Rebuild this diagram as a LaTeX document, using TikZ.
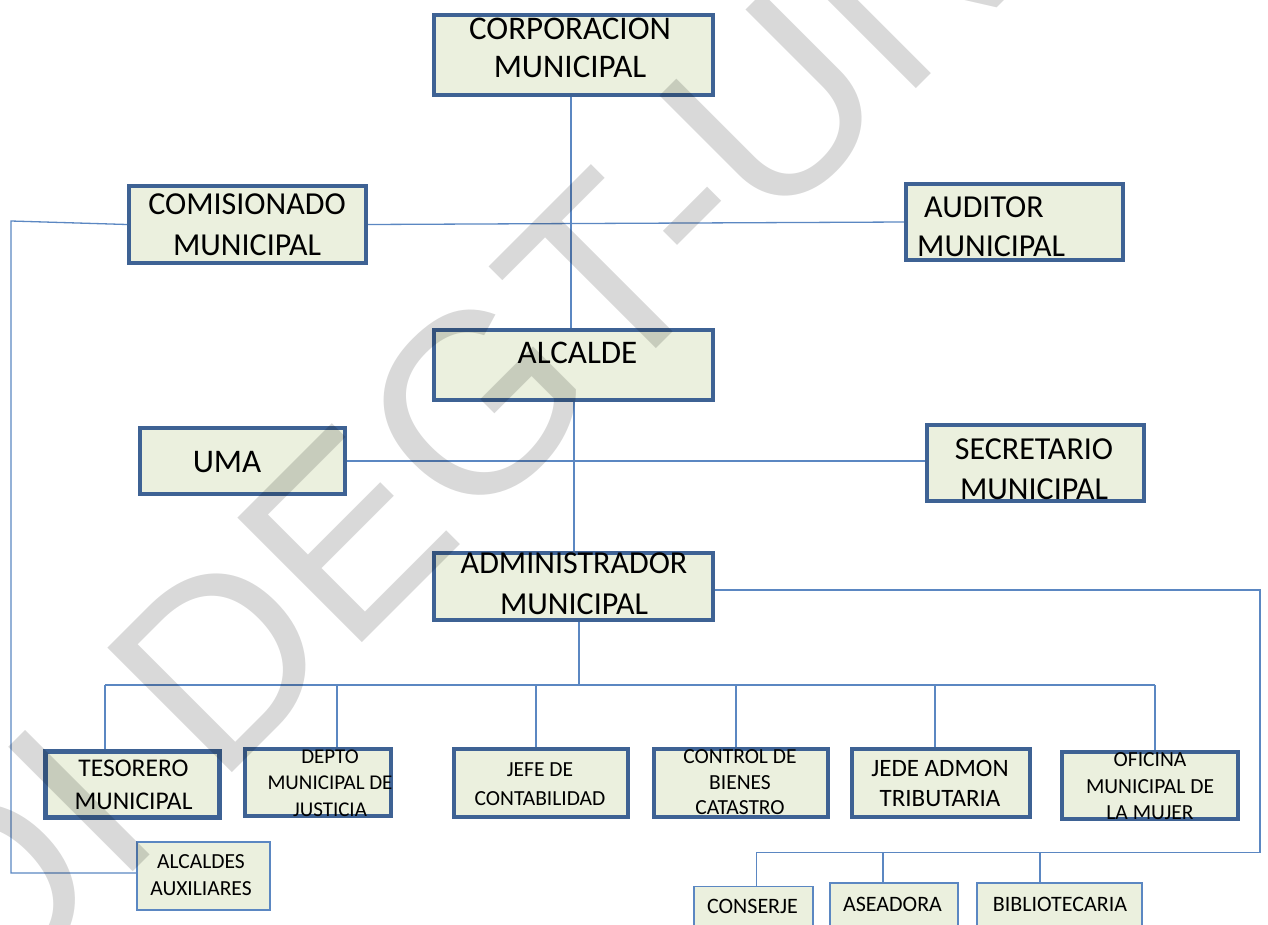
\documentclass[tikz,border=0pt]{standalone}
\usepackage{fontspec}
\setmainfont{Carlito}
\newfontfamily\wmfont{Liberation Sans}
\definecolor{bdr}{HTML}{3E6294}
\definecolor{lnc}{HTML}{5B87C2}
\definecolor{boxfill}{HTML}{EBF0DE}
\tikzset{
  box/.style={draw=bdr, line width=4pt, fill=boxfill, inner sep=0pt, rectangle},
  thinbox/.style={draw=lnc, line width=1.5pt, fill=boxfill, inner sep=0pt, rectangle},
  conn/.style={draw=lnc, line width=1.3pt},
  txt/.style={align=center, inner sep=0pt, text=black},
  big/.style={font=\fontsize{33}{40}\selectfont},
  wm/.style={inner sep=0pt, text=black, text opacity=0.15, font=\wmfont\fontsize{256}{256}\selectfont}
}
\begin{document}
\begin{tikzpicture}[x=1pt,y=-1pt]
\useasboundingbox (0,0) rectangle (1268,924);
\clip (0,0) rectangle (1268,924);
% boxes
\node[box, minimum width=279pt, minimum height=80pt] (corp) at (573.5,55) {};
\node[box, minimum width=237pt, minimum height=77pt] (comi) at (247.5,224.5) {};
\node[box, minimum width=217pt, minimum height=76pt] (audi) at (1014.5,222) {};
\node[box, minimum width=279pt, minimum height=70pt] (alca) at (573.5,365) {};
\node[box, minimum width=205pt, minimum height=66pt] (uma) at (242.5,461) {};
\node[box, minimum width=217pt, minimum height=76pt] (secr) at (1035.5,463) {};
\node[box, minimum width=279pt, minimum height=67pt] (admi) at (573.5,586.5) {};
\node[box, line width=5pt, minimum width=174pt, minimum height=66pt] (teso) at (132.5,784.5) {};
\node[box, minimum width=146pt, minimum height=67pt] (dept) at (318,782.5) {};
\node[box, minimum width=174pt, minimum height=68pt] (jefe) at (541,783) {};
\node[box, minimum width=174pt, minimum height=68pt] (cont) at (741,783) {};
\node[box, minimum width=178pt, minimum height=68pt] (jede) at (941,783) {};
\node[box, minimum width=176pt, minimum height=67pt] (ofic) at (1150,785.5) {};
\node[thinbox, minimum width=133pt, minimum height=68pt] (alcx) at (203.5,876) {};
\node[thinbox, minimum width=119pt, minimum height=60pt] (cons) at (753.5,916.5) {};
\node[thinbox, minimum width=128pt, minimum height=64pt] (asea) at (894,915) {};
\node[thinbox, minimum width=165pt, minimum height=64pt] (bibl) at (1059.5,915) {};
% texts
\node[txt, font=\fontsize{33}{38}\selectfont] (tcorp) at (570,47.5) {CORPORACION\\MUNICIPAL};
\node[txt, font=\fontsize{32}{41}\selectfont] (tcomi) at (247,224.5) {COMISIONADO\\MUNICIPAL};
\node[txt, align=left, anchor=west, font=\fontsize{32}{39}\selectfont] (taudi) at (917,227) {\hspace*{7pt}AUDITOR\\MUNICIPAL};
\node[txt, big] (talca) at (577.5,353) {ALCALDE};
\node[txt, big] (tuma) at (227,462) {UMA};
\node[txt, font=\fontsize{32}{40}\selectfont] (tsecr) at (1034,469) {SECRETARIO\\MUNICIPAL};
\node[txt, font=\fontsize{32}{41}\selectfont] (tadmi) at (574,583.5) {ADMINISTRADOR\\MUNICIPAL};
\node[txt, font=\fontsize{25.5}{33.5}\selectfont] (tteso) at (133.5,785) {TESORERO\\MUNICIPAL};
\node[txt, font=\fontsize{21}{26.5}\selectfont] (tdept) at (330,783) {DEPTO\\MUNICIPAL DE\\JUSTICIA};
\node[txt, font=\fontsize{21.5}{28.5}\selectfont] (tjefe) at (540,784) {JEFE DE\\CONTABILIDAD};
\node[txt, font=\fontsize{21.5}{25.5}\selectfont] (tcont) at (740,782.5) {CONTROL DE\\BIENES\\CATASTRO};
\node[txt, font=\fontsize{25}{30}\selectfont] (tjede) at (940,783) {JEDE ADMON\\TRIBUTARIA};
\node[txt, font=\fontsize{21.5}{26.5}\selectfont] (tofic) at (1150,786.5) {OFICINA\\MUNICIPAL DE\\LA MUJER};
\node[txt, font=\fontsize{21.5}{27}\selectfont] (talcx) at (201,875) {ALCALDES\\AUXILIARES};
\node[txt, font=\fontsize{22}{26}\selectfont] (tcons) at (752.5,906) {CONSERJE};
\node[txt, font=\fontsize{22}{26}\selectfont] (tasea) at (892.5,904.5) {ASEADORA};
\node[txt, font=\fontsize{22}{26}\selectfont] (tbibl) at (1060,904.5) {BIBLIOTECARIA};
% coordinates
\coordinate (c1) at (571,0);
\coordinate (c2) at (574,0);
\coordinate (lt) at (11,221);
\coordinate (lb) at (11,873);
\coordinate (rt) at (1260,590);
\coordinate (rb) at (1260,852.7);
\coordinate (bc) at (756.7,852.7);
\coordinate (ba) at (883,852.7);
\coordinate (bb) at (1040,852.7);
\coordinate (hub) at (579,685);
\coordinate (bl) at (105,685);
\coordinate (br) at (1155,685);
\coordinate (d2) at (337,685);
\coordinate (d3) at (536,685);
\coordinate (d4) at (736,685);
\coordinate (d5) at (935,685);
% connectors
\draw[conn] (c1 |- corp.south) -- (c1 |- alca.north);
\draw[conn] (c2 |- alca.south) -- (c2 |- admi.north);
\draw[conn] (comi.east) -- (audi.west);
\draw[conn] (comi.west) -- (lt) -- (lb) -- (lb -| alcx.west);
\draw[conn] (uma.east) -- (uma.east -| secr.west);
\draw[conn] (admi.east |- rt) -- (rt) -- (rb) -- (bc) -- (bc |- cons.north);
\draw[conn] (ba) -- (ba |- asea.north);
\draw[conn] (bb) -- (bb |- bibl.north);
\draw[conn] (hub |- admi.south) -- (hub);
\draw[conn] (bl) -- (br);
\draw[conn] (bl) -- (bl |- teso.north);
\draw[conn] (d2) -- (d2 |- dept.north);
\draw[conn] (d3) -- (d3 |- jefe.north);
\draw[conn] (d4) -- (d4 |- cont.north);
\draw[conn] (d5) -- (d5 |- jede.north);
\draw[conn] (br) -- (br |- ofic.north);
% watermark
\node[wm, rotate=45, anchor=base west] (wmk) at (-24.3,1029.3) {OI DEGT-UNAH};
\end{tikzpicture}
\end{document}
